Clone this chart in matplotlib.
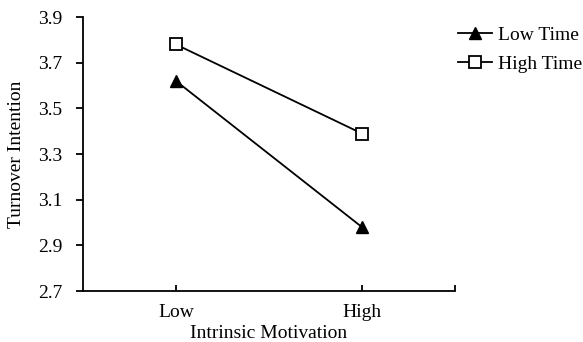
import matplotlib.pyplot as plt

plt.rcParams['font.family'] = ['Liberation Serif', 'DejaVu Serif']

categories = ['Low', 'High']
low_time = [3.62, 2.98]
high_time = [3.78, 3.39]
yticks = [2.7, 2.9, 3.1, 3.3, 3.5, 3.7, 3.9]

fig = plt.figure(figsize=(5.83, 3.42), dpi=100)
ax = fig.add_axes([0.1424, 0.149, 0.638, 0.801])

x = [0.5, 1.5]
ax.plot(x, low_time, color='black', lw=1.3, marker='^', ms=8.5,
        mfc='black', mec='black', label='Low Time')
ax.plot(x, high_time, color='black', lw=1.3, marker='s', ms=8,
        mfc='white', mec='black', mew=1.3, label='High Time')

ax.set_xlim(0, 2)
ax.set_ylim(2.7, 3.9)
ax.set_yticks(yticks)
ax.set_yticklabels([f'{v:.1f}' for v in yticks])
ax.set_xticks(x)
ax.set_xticklabels(categories)
ax.set_xticks([2], minor=True)

for s in ['top', 'right']:
    ax.spines[s].set_visible(False)
for s in ['left', 'bottom']:
    ax.spines[s].set_linewidth(1.3)

ax.tick_params(axis='y', direction='out', length=5, width=1.3, labelsize=14, pad=10)
ax.tick_params(axis='x', which='both', direction='in', length=4, width=1.3, labelsize=14, pad=9)

ax.set_xlabel('Intrinsic Motivation', fontsize=14)
ax.set_ylabel('Turnover Intention', fontsize=14)
ax.xaxis.set_label_coords(0.5, -0.125)
ax.yaxis.set_label_coords(-0.155, 0.5)

fig.legend(loc='upper left', bbox_to_anchor=(0.7856, 0.924), frameon=False,
           fontsize=14, handlelength=1.75, handletextpad=0.3, labelspacing=0.6,
           borderaxespad=0, borderpad=0)

fig.savefig('out.png', dpi=100)
